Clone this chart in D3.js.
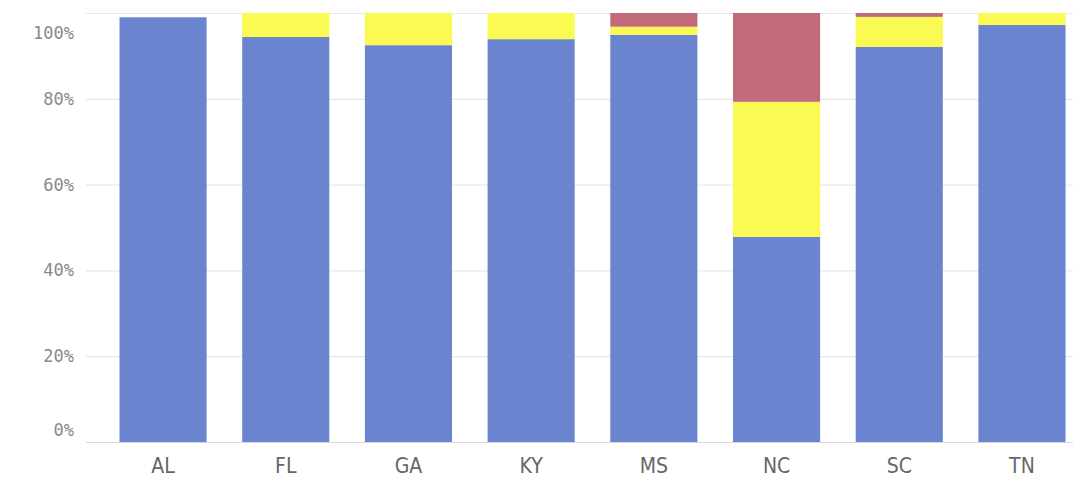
<!DOCTYPE html>
<html><head><meta charset="utf-8">
<script src="https://cdn.jsdelivr.net/npm/d3@7"></script>
<style>body{margin:0;background:#fff}</style>
</head><body>
<svg id="c" width="1073" height="483"></svg>
<script>
const states = ["AL","FL","GA","KY","MS","NC","SC","TN"];
const seriesNames = ["blue","yellow","red"];
const blueVals   = [99.0, 94.4, 92.5, 93.9, 94.9, 47.8, 92.1, 97.2];
const yellowVals = [0.0, 5.6, 7.5, 6.1, 1.9, 31.5, 7.0, 2.8];
const redVals    = [0.0, 0.0, 0.0, 0.0, 3.2, 20.7, 0.9, 0.0];
const yTicks = [0, 20, 40, 60, 80, 100];
const colors = {blue:"#6a84d0", yellow:"#fafa52", red:"#c06a7a"};

const data = states.map((s,i)=>({state:s, blue:blueVals[i], yellow:yellowVals[i], red:redVals[i]}));
const svg = d3.select("#c");
const x = d3.scaleBand().domain(states).range([101.7,1083.3]).paddingInner(0.29).paddingOuter(0.145);
const y = d3.scaleLinear().domain([0,100]).range([442,13]);

// gridlines
svg.append("g").selectAll("line").data(yTicks).join("line")
  .attr("x1",86).attr("x2",1073)
  .attr("y1",d=>y(d)+0.5).attr("y2",d=>y(d)+0.5)
  .attr("stroke",d=>d===0?"#d8d8d8":"#e8e8e8").attr("stroke-width",1.2);

const stack = d3.stack().keys(seriesNames)(data);
svg.append("g").selectAll("g").data(stack).join("g")
  .attr("fill",d=>colors[d.key])
  .selectAll("rect").data(d=>d).join("rect")
  .attr("x",d=>x(d.data.state)).attr("width",x.bandwidth())
  .attr("y",d=>y(d[1])).attr("height",d=>Math.max(0,y(d[0])-y(d[1])));

// y labels
const labelY = v => v===100 ? y(v)+20 : (v===0 ? y(v)-12 : y(v));
svg.append("g").selectAll("text").data(yTicks).join("text")
  .attr("x",74).attr("y",d=>labelY(d)).attr("dy","0.35em")
  .attr("text-anchor","end")
  .attr("font-family","'DejaVu Sans Mono', monospace").attr("font-size",17)
  .attr("fill","#8a8a8a").text(d=>d+"%");

// x labels
svg.append("g").selectAll("text").data(states).join("text")
  .attr("x",d=>x(d)+x.bandwidth()/2).attr("y",466).attr("dy","0.35em")
  .attr("text-anchor","middle")
  .attr("font-family","'Liberation Sans Narrow','DejaVu Sans Condensed',sans-serif").attr("font-size",21)
  .attr("fill","#666").text(d=>d);
</script>
</body></html>
